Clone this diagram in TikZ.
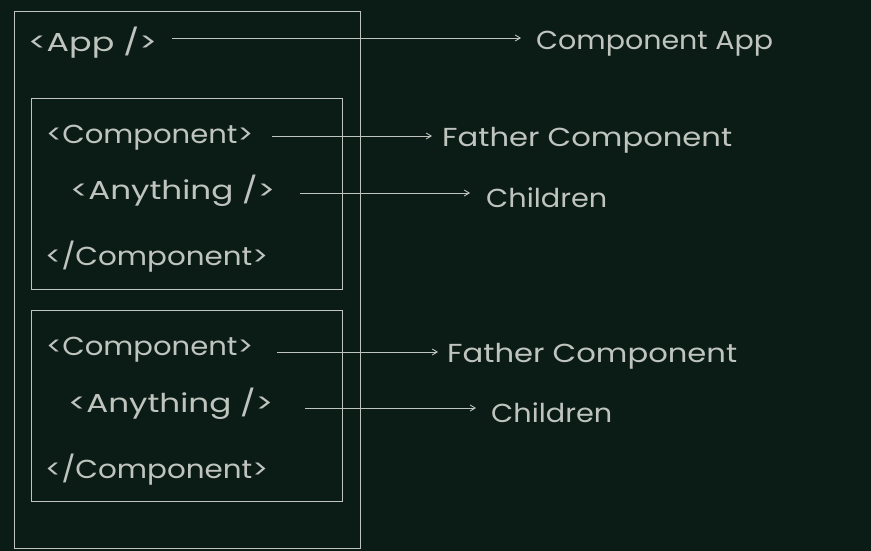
\documentclass[tikz,border=0pt]{standalone}
\usepackage{fontspec}
\setmainfont{Poppins}
\usetikzlibrary{arrows.meta}
\definecolor{bg}{HTML}{0B1C17}
\definecolor{ink}{HTML}{BFC4BF}
\newcommand{\fitw}[2]{\resizebox{#1}{\height}{#2}}
\begin{document}
\begin{tikzpicture}[x=1pt,y=-1pt,
  txt/.style={anchor=base west,inner sep=0pt,text=ink,font=\fontsize{26}{30}\selectfont},
  frame/.style={draw=ink,line width=1.3pt},
  conn/.style={draw=ink,line width=0.9pt,-{Straight Barb[length=5pt,width=6pt]}}]
\fill[bg] (0,0) rectangle (871,551);
\useasboundingbox (0,0) rectangle (871,551);
% boxes
\node[frame,inner sep=0pt,minimum width=346pt,minimum height=537pt,anchor=north west] (outer) at (14,11) {};
\node[frame,inner sep=0pt,minimum width=311pt,minimum height=191pt,anchor=north west] (box1) at (31,98) {};
\node[frame,inner sep=0pt,minimum width=311pt,minimum height=191pt,anchor=north west] (box2) at (31,310) {};
% texts
\node[txt] (app) at (28,52) {\fitw{129pt}{<App />}};
\node[txt] (capp) at (536,50) {\fitw{237pt}{Component App}};
\node[txt] (c1) at (46,143) {\fitw{207pt}{<Component>}};
\node[txt] (f1) at (442,146) {\fitw{290pt}{Father Component}};
\node[txt] (a1) at (70,200) {\fitw{205pt}{<Anything />}};
\node[txt] (ch1) at (486,207) {\fitw{121pt}{Children}};
\node[txt] (e1) at (45,265) {\fitw{223pt}{</Component>}};
\node[txt] (c2) at (46,355) {\fitw{207pt}{<Component>}};
\node[txt] (f2) at (447,362) {\fitw{290pt}{Father Component}};
\node[txt] (a2) at (68,412) {\fitw{205pt}{<Anything />}};
\node[txt] (ch2) at (491,422) {\fitw{121pt}{Children}};
\node[txt] (e2) at (45,478) {\fitw{223pt}{</Component>}};
% connector endpoints
\coordinate (p0s) at (172,38); \coordinate (p0e) at (521,38);
\coordinate (p1s) at (272,136); \coordinate (p1e) at (432,136);
\coordinate (p2s) at (300,193); \coordinate (p2e) at (470,193);
\coordinate (p3s) at (277,352); \coordinate (p3e) at (438,352);
\coordinate (p4s) at (305,408); \coordinate (p4e) at (476,408);
\draw[conn] (p0s) -- (p0e);
\draw[conn] (p1s) -- (p1e);
\draw[conn] (p2s) -- (p2e);
\draw[conn] (p3s) -- (p3e);
\draw[conn] (p4s) -- (p4e);
\end{tikzpicture}
\end{document}
